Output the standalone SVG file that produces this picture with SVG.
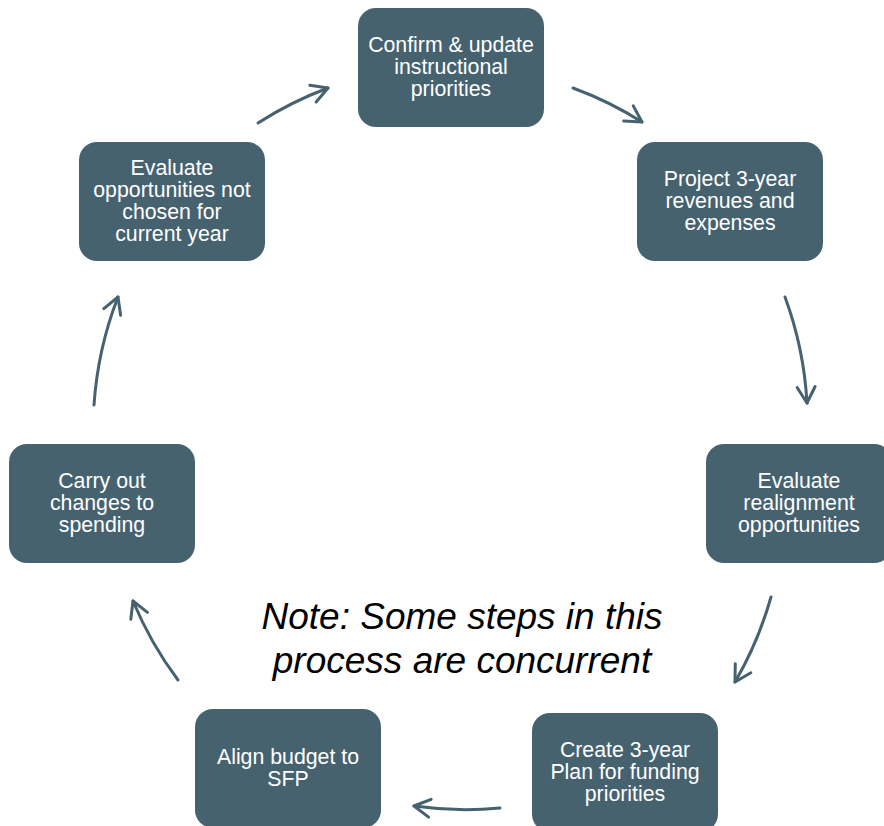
<svg xmlns="http://www.w3.org/2000/svg" width="884" height="826" viewBox="0 0 884 826">
<style>
.box{fill:#46626f;}
.lbl{font-family:"Liberation Sans",Arial,sans-serif;font-size:21.3px;fill:#ffffff;text-anchor:middle;}
.conn{fill:none;stroke:#46626f;stroke-width:3;stroke-linecap:round;}
.note{font-family:"Liberation Sans",Arial,sans-serif;font-size:37px;font-style:italic;fill:#000000;text-anchor:middle;}
</style>
<defs>
<marker id="ah" markerUnits="userSpaceOnUse" viewBox="0 0 22 22" markerWidth="22" markerHeight="22" refX="19" refY="11" orient="auto">
<path d="M3,2 L19,11 L3,20" fill="none" stroke="#46626f" stroke-width="3" stroke-linecap="round" stroke-linejoin="round"/>
</marker>
</defs>
<rect width="884" height="826" fill="#ffffff"/>
<g id="connectors">
<path class="conn" marker-end="url(#ah)" d="M258,123 A365,365 0 0 1 328,88"/>
<path class="conn" marker-end="url(#ah)" d="M573,88 A365,365 0 0 1 642,122"/>
<path class="conn" marker-end="url(#ah)" d="M785,297 A365,365 0 0 1 807,403"/>
<path class="conn" marker-end="url(#ah)" d="M771,597 A365,365 0 0 1 735,682"/>
<path class="conn" marker-end="url(#ah)" d="M500,808 A365,365 0 0 1 414,806"/>
<path class="conn" marker-end="url(#ah)" d="M178,680 A365,365 0 0 1 133,601"/>
<path class="conn" marker-end="url(#ah)" d="M94,405 A365,365 0 0 1 118,297"/>
</g>
<g id="n1"><rect class="box" x="358" y="8" width="186" height="119" rx="18"/>
<text class="lbl" x="451" y="52">Confirm &amp; update</text><text class="lbl" x="451" y="74">instructional</text><text class="lbl" x="451" y="96">priorities</text></g>
<g id="n2"><rect class="box" x="637" y="142" width="186" height="119" rx="18"/>
<text class="lbl" x="730" y="186">Project 3-year</text><text class="lbl" x="730" y="208">revenues and</text><text class="lbl" x="730" y="230">expenses</text></g>
<g id="n3"><rect class="box" x="706" y="444" width="186" height="119" rx="18"/>
<text class="lbl" x="799" y="488">Evaluate</text><text class="lbl" x="799" y="510">realignment</text><text class="lbl" x="799" y="532">opportunities</text></g>
<g id="n4"><rect class="box" x="532" y="713" width="186" height="119" rx="18"/>
<text class="lbl" x="625" y="757">Create 3-year</text><text class="lbl" x="625" y="779">Plan for funding</text><text class="lbl" x="625" y="801">priorities</text></g>
<g id="n5"><rect class="box" x="195" y="709" width="186" height="119" rx="18"/>
<text class="lbl" x="288" y="764">Align budget to</text><text class="lbl" x="288" y="786">SFP</text></g>
<g id="n6"><rect class="box" x="9" y="444" width="186" height="119" rx="18"/>
<text class="lbl" x="102" y="488">Carry out</text><text class="lbl" x="102" y="510">changes to</text><text class="lbl" x="102" y="532">spending</text></g>
<g id="n7"><rect class="box" x="79" y="142" width="186" height="119" rx="18"/>
<text class="lbl" x="172" y="175">Evaluate</text><text class="lbl" x="172" y="197">opportunities not</text><text class="lbl" x="172" y="219">chosen for</text><text class="lbl" x="172" y="241">current year</text></g>
<g id="note"><text class="note" x="462" y="629">Note: Some steps in this</text><text class="note" x="462" y="673">process are concurrent</text></g>
</svg>
